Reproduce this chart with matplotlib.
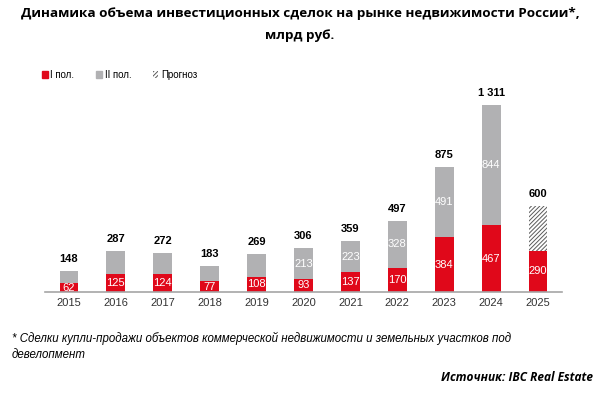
import numpy as np
import matplotlib.pyplot as plt
import matplotlib.patches as mpatches

years = ["2015", "2016", "2017", "2018", "2019", "2020", "2021", "2022", "2023", "2024", "2025"]
h1 = [62, 125, 124, 77, 108, 93, 137, 170, 384, 467, 290]
h2 = [86, 162, 148, 106, 161, 213, 223, 328, 491, 844, 0]
forecast = [0, 0, 0, 0, 0, 0, 0, 0, 0, 0, 310]
totals = [148, 287, 272, 183, 269, 306, 359, 497, 875, 1311, 600]
h2_labels = [None, None, None, None, None, "213", "223", "328", "491", "844", None]
total_labels = ["148", "287", "272", "183", "269", "306", "359", "497", "875", "1 311", "600"]

RED = "#e0081a"
GRAY = "#b1b1b3"

plt.rcParams["hatch.linewidth"] = 0.7
plt.rcParams["hatch.color"] = "#5a5a5a"

fig = plt.figure(figsize=(6, 3.94), dpi=100)
ax = fig.add_axes([0.075, 0.2589, 0.8617, 0.538])

x = np.arange(len(years))
w = 0.4
h1 = np.array(h1)
h2 = np.array(h2)
forecast = np.array(forecast)

ax.bar(x, h1, w, color=RED, label="I пол.")
ax.bar(x, h2, w, bottom=h1, color=GRAY, label="II пол.")
ax.bar(x, forecast, w, bottom=h1, color="white", hatch="////////", edgecolor="#5a5a5a",
       linewidth=0, label="Прогноз")

lab_font = dict(family="Liberation Sans", fontsize=8, color="white", ha="center", va="center")
for i in x:
    ax.text(i, h1[i] / 2, str(h1[i]), **lab_font)
    if h2_labels[i]:
        ax.text(i, h1[i] + h2[i] / 2, h2_labels[i], **lab_font)
    ax.annotate(total_labels[i], (i, totals[i]), xytext=(0, 5), textcoords="offset points",
                ha="center", va="bottom", family="Liberation Sans", fontsize=8,
                fontweight="bold", color="black")

ax.set_xlim(-0.51, len(years) - 0.49)
ax.set_ylim(0, 1311 * 212 / 187)
ax.set_xticks(x)
ax.set_xticklabels(years, family="Liberation Sans", fontsize=8, color="#333333")
ax.tick_params(axis="x", length=0, pad=4)
ax.set_yticks([])
for s in ["top", "right", "left"]:
    ax.spines[s].set_visible(False)
ax.spines["bottom"].set_color("#a6a6a6")
ax.spines["bottom"].set_linewidth(1.2)

# legend
handles = [mpatches.Patch(color=RED, label="I пол."),
           mpatches.Patch(color=GRAY, label="II пол."),
           mpatches.Patch(facecolor="white", hatch="////////", edgecolor="#5a5a5a", linewidth=0,
                          label="Прогноз")]
fig.legend(handles=handles, loc="center left", bbox_to_anchor=(0.055, 0.81), ncol=3,
           frameon=False, prop=dict(family="Liberation Sans", size=7),
           handlelength=0.6, handleheight=0.6, handletextpad=0.3, columnspacing=2.2)

fig.text(0.5, 0.965, "Динамика объема инвестиционных сделок на рынке недвижимости России*,",
         ha="center", va="center", family="Open Sans", fontweight="bold", fontsize=9.7)
fig.text(0.5, 0.91, "млрд руб.", ha="center", va="center", family="Open Sans",
         fontweight="bold", fontsize=9.7)

fig.text(0.02, 0.14, "* Сделки купли-продажи объектов коммерческой недвижимости и земельных участков под",
         ha="left", va="center", family="Liberation Sans", style="italic", fontsize=8.3)
fig.text(0.02, 0.099, "девелопмент", ha="left", va="center", family="Liberation Sans",
         style="italic", fontsize=8.3)
fig.text(0.988, 0.043, "Источник: IBC Real Estate", ha="right", va="center", family="Open Sans",
         style="italic", fontweight="bold", fontsize=8.6)

fig.savefig("out.png", dpi=100)
